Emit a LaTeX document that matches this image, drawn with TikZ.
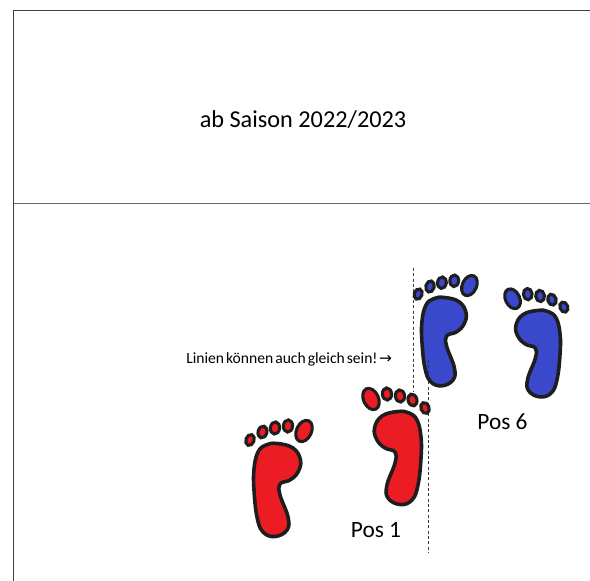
\documentclass[tikz,border=0pt]{standalone}
\usepackage{fontspec}
\setmainfont{Carlito}
\newfontfamily\arrowfont{DejaVu Sans}
\definecolor{footred}{HTML}{EC1C24}
\definecolor{footblue}{HTML}{3A48CC}
\definecolor{footline}{HTML}{1E1E1E}
\newcommand{\footshape}[5]{%
  \begin{scope}[shift={(#1,#2)},xscale=#3,yscale=#4]
    \draw[footstroke,fill=#5] plot[smooth cycle,tension=0.7] coordinates {(24,1.5) (40,6) (47.5,18) (45,30) (37,38) (27,42) (27,53) (35,75) (34,88) (22,94.5) (10,90) (4,75) (1,48) (1,27) (5,10) (13,3)};
    \draw[toestroke,fill=#5] (-3,-2) ellipse [x radius=4.1,y radius=5.6,rotate=-20];
    \draw[toestroke,fill=#5] (9.5,-10) ellipse [x radius=4.4,y radius=6,rotate=-15];
    \draw[toestroke,fill=#5] (22,-14) ellipse [x radius=4.6,y radius=6.1,rotate=-8];
    \draw[toestroke,fill=#5] (35,-16) ellipse [x radius=4.6,y radius=6.1,rotate=-5];
    \draw[toestroke,fill=#5] (51,-11) ellipse [x radius=7.5,y radius=11.2,rotate=-25];
  \end{scope}}
\tikzset{
  footstroke/.style={draw=footline,line width=2.7pt,line join=round},
  toestroke/.style={draw=footline,line width=2.3pt},
  frameline/.style={draw=black!75,line width=1.1pt},
  ruleline/.style={draw=black!60,line width=0.7pt},
  guide/.style={draw=black!75,line width=0.5pt,dash pattern=on 2.2pt off 1.8pt},
  caption/.style={inner sep=0pt,anchor=center}
}
\begin{document}
\begin{tikzpicture}[x=0.75pt,y=-0.75pt]
\useasboundingbox (0,0) rectangle (590,581);
\fill[white] (0,0) rectangle (590,581);
\draw[frameline] (590,10.5) -- (13.5,10.5) -- (13.5,581);
\draw[ruleline] (13.5,203.5) -- (590,203.5);
\draw[guide] (413.5,268) -- (413.5,392);
\draw[guide] (428.5,360) -- (428.5,553);
\footshape{253}{442}{1}{1}{footred}
\footshape{422}{410}{-1}{1}{footred}
\footshape{421}{296}{0.95}{0.95}{footblue}
\footshape{561}{309}{-0.95}{0.93}{footblue}
\draw[guide,draw=footblue!60!black,line width=0.4pt] (428.5,360) -- (428.5,376);
\node[caption,font=\fontsize{18.2pt}{20pt}\selectfont] (title) at (303,120) {ab Saison 2022/2023};
\node[caption,anchor=west,font=\fontsize{11.7pt}{13pt}\selectfont] (note) at (186,359) {\spaceskip=0.13em\relax Linien können auch gleich sein!\hspace{0.1em}{\arrowfont\fontsize{11.5pt}{12pt}\selectfont →}};
\node[caption,font=\fontsize{17.5pt}{20pt}\selectfont] (pos6) at (502.5,422) {Pos 6};
\node[caption,font=\fontsize{17.5pt}{20pt}\selectfont] (pos1) at (376,530) {Pos 1};
\end{tikzpicture}
\end{document}
